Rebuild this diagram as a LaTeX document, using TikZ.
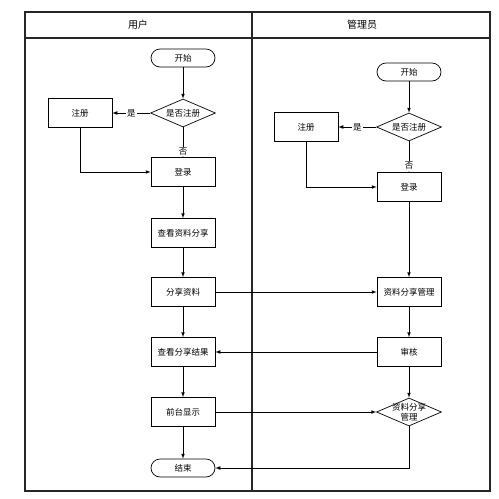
\documentclass[tikz,border=0pt]{standalone}
\usepackage{fontspec}
\newfontfamily\cjk{Noto Sans CJK SC}
\usetikzlibrary{arrows,calc,positioning,shapes.geometric}

\begin{document}
\begin{tikzpicture}[->, >=latex, x=1pt, y=-1pt, line width=0.7pt]
\tikzstyle{stap} = [draw, fill=white, minimum height=29pt, minimum width=64pt, font=\cjk\fontsize{8.5}{10}\selectfont]
\tikzstyle{eind} = [stap, minimum height=18pt, rounded corners=9pt]
\tikzstyle{keuze} = [draw, fill=white, diamond, aspect=2.3, inner sep=0pt, minimum height=28pt, minimum width=65pt]
\tikzstyle{tekst} = [font=\cjk\fontsize{8.5}{10}\selectfont, align=center]
\tikzstyle{ja} = [fill=white, inner sep=1pt, font=\cjk\fontsize{8.5}{10}\selectfont]

\useasboundingbox (0,0) rectangle (499,499);

% swimlanes
\draw [-, line width=1.2pt, draw=black!85] (25,12) rectangle (490,491);
\draw [-, line width=1.2pt, draw=black!85] (25,38) -- (490,38);
\draw [-, line width=1.2pt, draw=black!85] (252,12) -- (252,491);
\node [font=\cjk\fontsize{10}{12}\selectfont] (user) at (138,25) {用户};
\node [font=\cjk\fontsize{10}{12}\selectfont] (admin) at (362,25) {管理员};

% user lane
\node [eind] (ustart) at (183,58) {开始};
\node [keuze, label={[tekst]center:是否注册}] (uask) [below of=ustart, node distance=55pt] {};
\draw (ustart) -- (uask);

\node [stap] (ureg) [left of=uask, node distance=103pt] {注册};
\draw (uask) -- node [ja] {是} (ureg);

\node [stap] (ulogin) [below of=uask, node distance=59pt] {登录};
\draw (uask) -- node [ja, pos=0.8] {否} (ulogin);
\draw (ureg) |- (ulogin);

\node [stap] (uview) [below of=ulogin, node distance=61pt] {查看资料分享};
\draw (ulogin) -- (uview);

\node [stap] (ushare) [below of=uview, node distance=59pt] {分享资料};
\draw (uview) -- (ushare);

\node [stap] (uresult) [below of=ushare, node distance=60pt] {查看分享结果};
\draw (ushare) -- (uresult);

\node [stap] (ushow) [below of=uresult, node distance=60pt] {前台显示};
\draw (uresult) -- (ushow);

\node [eind] (uend) [below of=ushow, node distance=56pt] {结束};
\draw (ushow) -- (uend);

% admin lane
\node [eind] (astart) at (409,72) {开始};
\node [keuze, label={[tekst]center:是否注册}] (aask) [below of=astart, node distance=55pt] {};
\draw (astart) -- (aask);

\node [stap] (areg) [left of=aask, node distance=103pt] {注册};
\draw (aask) -- node [ja] {是} (areg);

\node [stap] (alogin) [below of=aask, node distance=60pt] {登录};
\draw (aask) -- node [ja, pos=0.8] {否} (alogin);
\draw (areg) |- (alogin);

\node [stap] (amanage) [below of=alogin, node distance=105pt] {资料分享管理};
\draw (alogin) -- (amanage);
\draw (ushare) -- (amanage);

\node [stap] (acheck) [below of=amanage, node distance=60pt] {审核};
\draw (amanage) -- (acheck);
\draw (acheck) -- (uresult);

\node [keuze, label={[tekst, font=\cjk\fontsize{8.5}{9.5}\selectfont]center:资料分享\\管理}] (adecide) [below of=acheck, node distance=60pt] {};
\draw (acheck) -- (adecide);
\draw (ushow) -- (adecide);
\draw (adecide) |- (uend);

\end{tikzpicture}
\end{document}
